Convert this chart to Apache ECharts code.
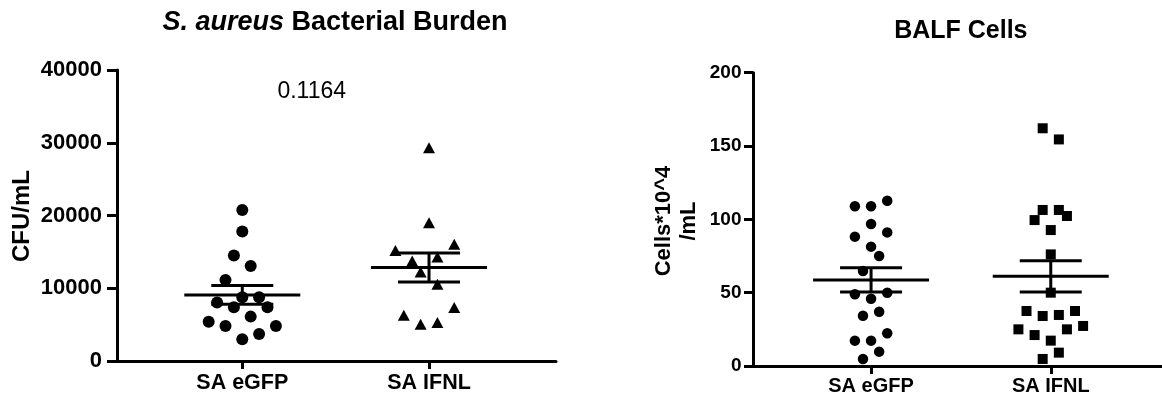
<!DOCTYPE html>
<html>
<head>
<meta charset="utf-8">
<script src="https://cdn.jsdelivr.net/npm/echarts@6/dist/echarts.min.js"></script>
<style>html,body{margin:0;padding:0;background:#fff;}#c{width:1162px;height:399px;}</style>
</head>
<body>
<div id="c"></div>
<script>
const categories = ['SA eGFP', 'SA IFNL'];
// Left panel: S. aureus CFU/mL
const cfuEGFP = [20750, 17800, 14500, 13050, 11150, 8750, 8750, 8050, 7400, 7400, 6100, 5400, 4800, 4800, 3700, 3000];
const cfuEGFPJitter = [0, 0, -1, 1, -2, 0, 2, -3, -1, 3, 1, -4, -2, 4, 2, 0];
const cfuIFNL = [29300, 19000, 15200, 16050, 13750, 14300, 12250, 10550, 7350, 6300, 5050, 5300];
const cfuIFNLJitter = [0, 0, -4, 3, -2, 1, -1, 1, 3, -3, -1, 1];
const cfuTicks = [0, 10000, 20000, 30000, 40000];
const pValue = '0.1164';
// Right panel: BALF cells (x10^4 / mL)
const balfEGFP = [112.7, 108.9, 108.9, 96.8, 88.2, 91.1, 81.4, 75.0, 64.8, 48.9, 45.9, 50.0, 37.0, 34.3, 22.3, 17.3, 17.3, 9.8, 4.8];
const balfEGFPJitter = [2, -2, 0, 0, -2, 2, 0, 1, -1, -2, 0, 2, 1, -1, 2, -2, 0, 1, -1];
const balfIFNL = [162.1, 154.5, 106.4, 106.4, 99.5, 102.3, 92.7, 76.1, 50.0, 37.5, 34.1, 34.8, 37.5, 25.0, 21.1, 25.0, 27.3, 17.3, 9.1, 4.8];
const balfIFNLJitter = [-1, 1, -1, 1, -2, 2, 0, 0, 0, -3, -1, 1, 3, -4, -2, 2, 4, 0, 1, -1];
const balfTicks = [0, 50, 100, 150, 200];

const FONT = "'Liberation Sans', Arial, Helvetica, sans-serif";
const JSTEP = 0.045;

function pts(vals, jit, idx) { return vals.map((v, i) => [idx + 1 + jit[i] * JSTEP, v]); }
function meanSem(vals, idx) {
  const n = vals.length;
  const m = vals.reduce((a, b) => a + b, 0) / n;
  const sd = Math.sqrt(vals.reduce((a, b) => a + (b - m) * (b - m), 0) / (n - 1));
  return [idx + 1, m, sd / Math.sqrt(n)];
}
function renderMean(params, api) {
  const x = api.value(0), m = api.value(1), s = api.value(2);
  const c = api.coord([x, m]), t = api.coord([x, m + s]), b = api.coord([x, m - s]);
  const st = { stroke: '#000', lineWidth: 3, fill: null };
  return { type: 'group', children: [
    { type: 'line', shape: { x1: c[0] - 58, y1: c[1], x2: c[0] + 58, y2: c[1] }, style: st },
    { type: 'line', shape: { x1: c[0] - 31, y1: t[1], x2: c[0] + 31, y2: t[1] }, style: st },
    { type: 'line', shape: { x1: c[0] - 31, y1: b[1], x2: c[0] + 31, y2: b[1] }, style: st },
    { type: 'line', shape: { x1: c[0], y1: t[1], x2: c[0], y2: b[1] }, style: st }
  ]};
}

function xAxisDef(gi, min, max, fs, margin) {
  return {
    type: 'value', gridIndex: gi, min: min, max: max,
    splitLine: { show: false },
    axisLine: { show: true, onZero: false, lineStyle: { color: '#000', width: 3 } },
    axisTick: { show: true, customValues: [1, 2], length: 8, lineStyle: { color: '#000', width: 3 } },
    axisLabel: { show: true, customValues: [1, 2], margin: margin, color: '#000', fontFamily: FONT, fontWeight: 'bold', fontSize: fs,
      formatter: v => categories[Math.round(v) - 1] || '' }
  };
}
function yAxisDef(gi, ticks, fs, margin, tickLen) {
  return {
    type: 'value', gridIndex: gi, min: ticks[0], max: ticks[ticks.length - 1], interval: ticks[1] - ticks[0],
    splitLine: { show: false },
    axisLine: { show: true, onZero: false, lineStyle: { color: '#000', width: 3 } },
    axisTick: { show: true, length: tickLen, lineStyle: { color: '#000', width: 3 } },
    axisLabel: { margin: margin, color: '#000', fontFamily: FONT, fontWeight: 'bold', fontSize: fs, showMinLabel: true, showMaxLabel: true,
      formatter: v => String(v) }
  };
}

const dot = { color: '#000', opacity: 1 };
const chart = echarts.init(document.getElementById('c'), null, { renderer: 'canvas' });
chart.setOption({
  animation: false,
  backgroundColor: '#fff',
  grid: [
    { left: 117, top: 70, width: 439, height: 291 },
    { left: 753, top: 72.7, width: 409, height: 293.3 }
  ],
  xAxis: [ xAxisDef(0, 0.329, 2.68, 21.5, 11), xAxisDef(1, 0.343, 2.619, 20, 10) ],
  yAxis: [ yAxisDef(0, cfuTicks, 22, 15, 10), yAxisDef(1, balfTicks, 19, 11.5, 9) ],
  series: [
    { type: 'scatter', xAxisIndex: 0, yAxisIndex: 0, symbol: 'circle', symbolSize: 12, itemStyle: dot, data: pts(cfuEGFP, cfuEGFPJitter, 0) },
    { type: 'scatter', xAxisIndex: 0, yAxisIndex: 0, symbol: 'triangle', symbolSize: [12, 11], itemStyle: dot, data: pts(cfuIFNL, cfuIFNLJitter, 1) },
    { type: 'custom', xAxisIndex: 0, yAxisIndex: 0, renderItem: renderMean, data: [meanSem(cfuEGFP, 0), meanSem(cfuIFNL, 1)], encode: { x: 0, y: 1 }, z: 3 },
    { type: 'scatter', xAxisIndex: 1, yAxisIndex: 1, symbol: 'circle', symbolSize: 10.5, itemStyle: dot, data: pts(balfEGFP, balfEGFPJitter, 0) },
    { type: 'scatter', xAxisIndex: 1, yAxisIndex: 1, symbol: 'rect', symbolSize: 10, itemStyle: dot, data: pts(balfIFNL, balfIFNLJitter, 1) },
    { type: 'custom', xAxisIndex: 1, yAxisIndex: 1, renderItem: renderMean, data: [meanSem(balfEGFP, 0), meanSem(balfIFNL, 1)], encode: { x: 0, y: 1 }, z: 3 }
  ],
  graphic: [
    { type: 'text', x: 335, y: 22.5, style: { text: '{i|S. aureus }{b|Bacterial Burden}', textAlign: 'center', textVerticalAlign: 'middle',
      rich: { i: { fontFamily: FONT, fontWeight: 'bold', fontStyle: 'italic', fontSize: 27, fill: '#000' }, b: { fontFamily: FONT, fontWeight: 'bold', fontSize: 27, fill: '#000' } } } },
    { type: 'text', x: 311.7, y: 92, style: { text: pValue, textAlign: 'center', textVerticalAlign: 'middle', fontFamily: FONT, fontSize: 23, fill: '#000' } },
    { type: 'text', x: 22.5, y: 216, rotation: Math.PI / 2, style: { text: 'CFU/mL', textAlign: 'center', textVerticalAlign: 'middle', fontFamily: FONT, fontWeight: 'bold', fontSize: 24, fill: '#000' } },
    { type: 'text', x: 960.8, y: 30.8, style: { text: 'BALF Cells', textAlign: 'center', textVerticalAlign: 'middle', fontFamily: FONT, fontWeight: 'bold', fontSize: 25, fill: '#000' } },
    { type: 'text', x: 676.5, y: 221, rotation: Math.PI / 2, style: { text: 'Cells*10^4\n/mL', lineHeight: 25, textAlign: 'center', textVerticalAlign: 'middle', fontFamily: FONT, fontWeight: 'bold', fontSize: 22, fill: '#000' } }
  ]
});
</script>
</body>
</html>
